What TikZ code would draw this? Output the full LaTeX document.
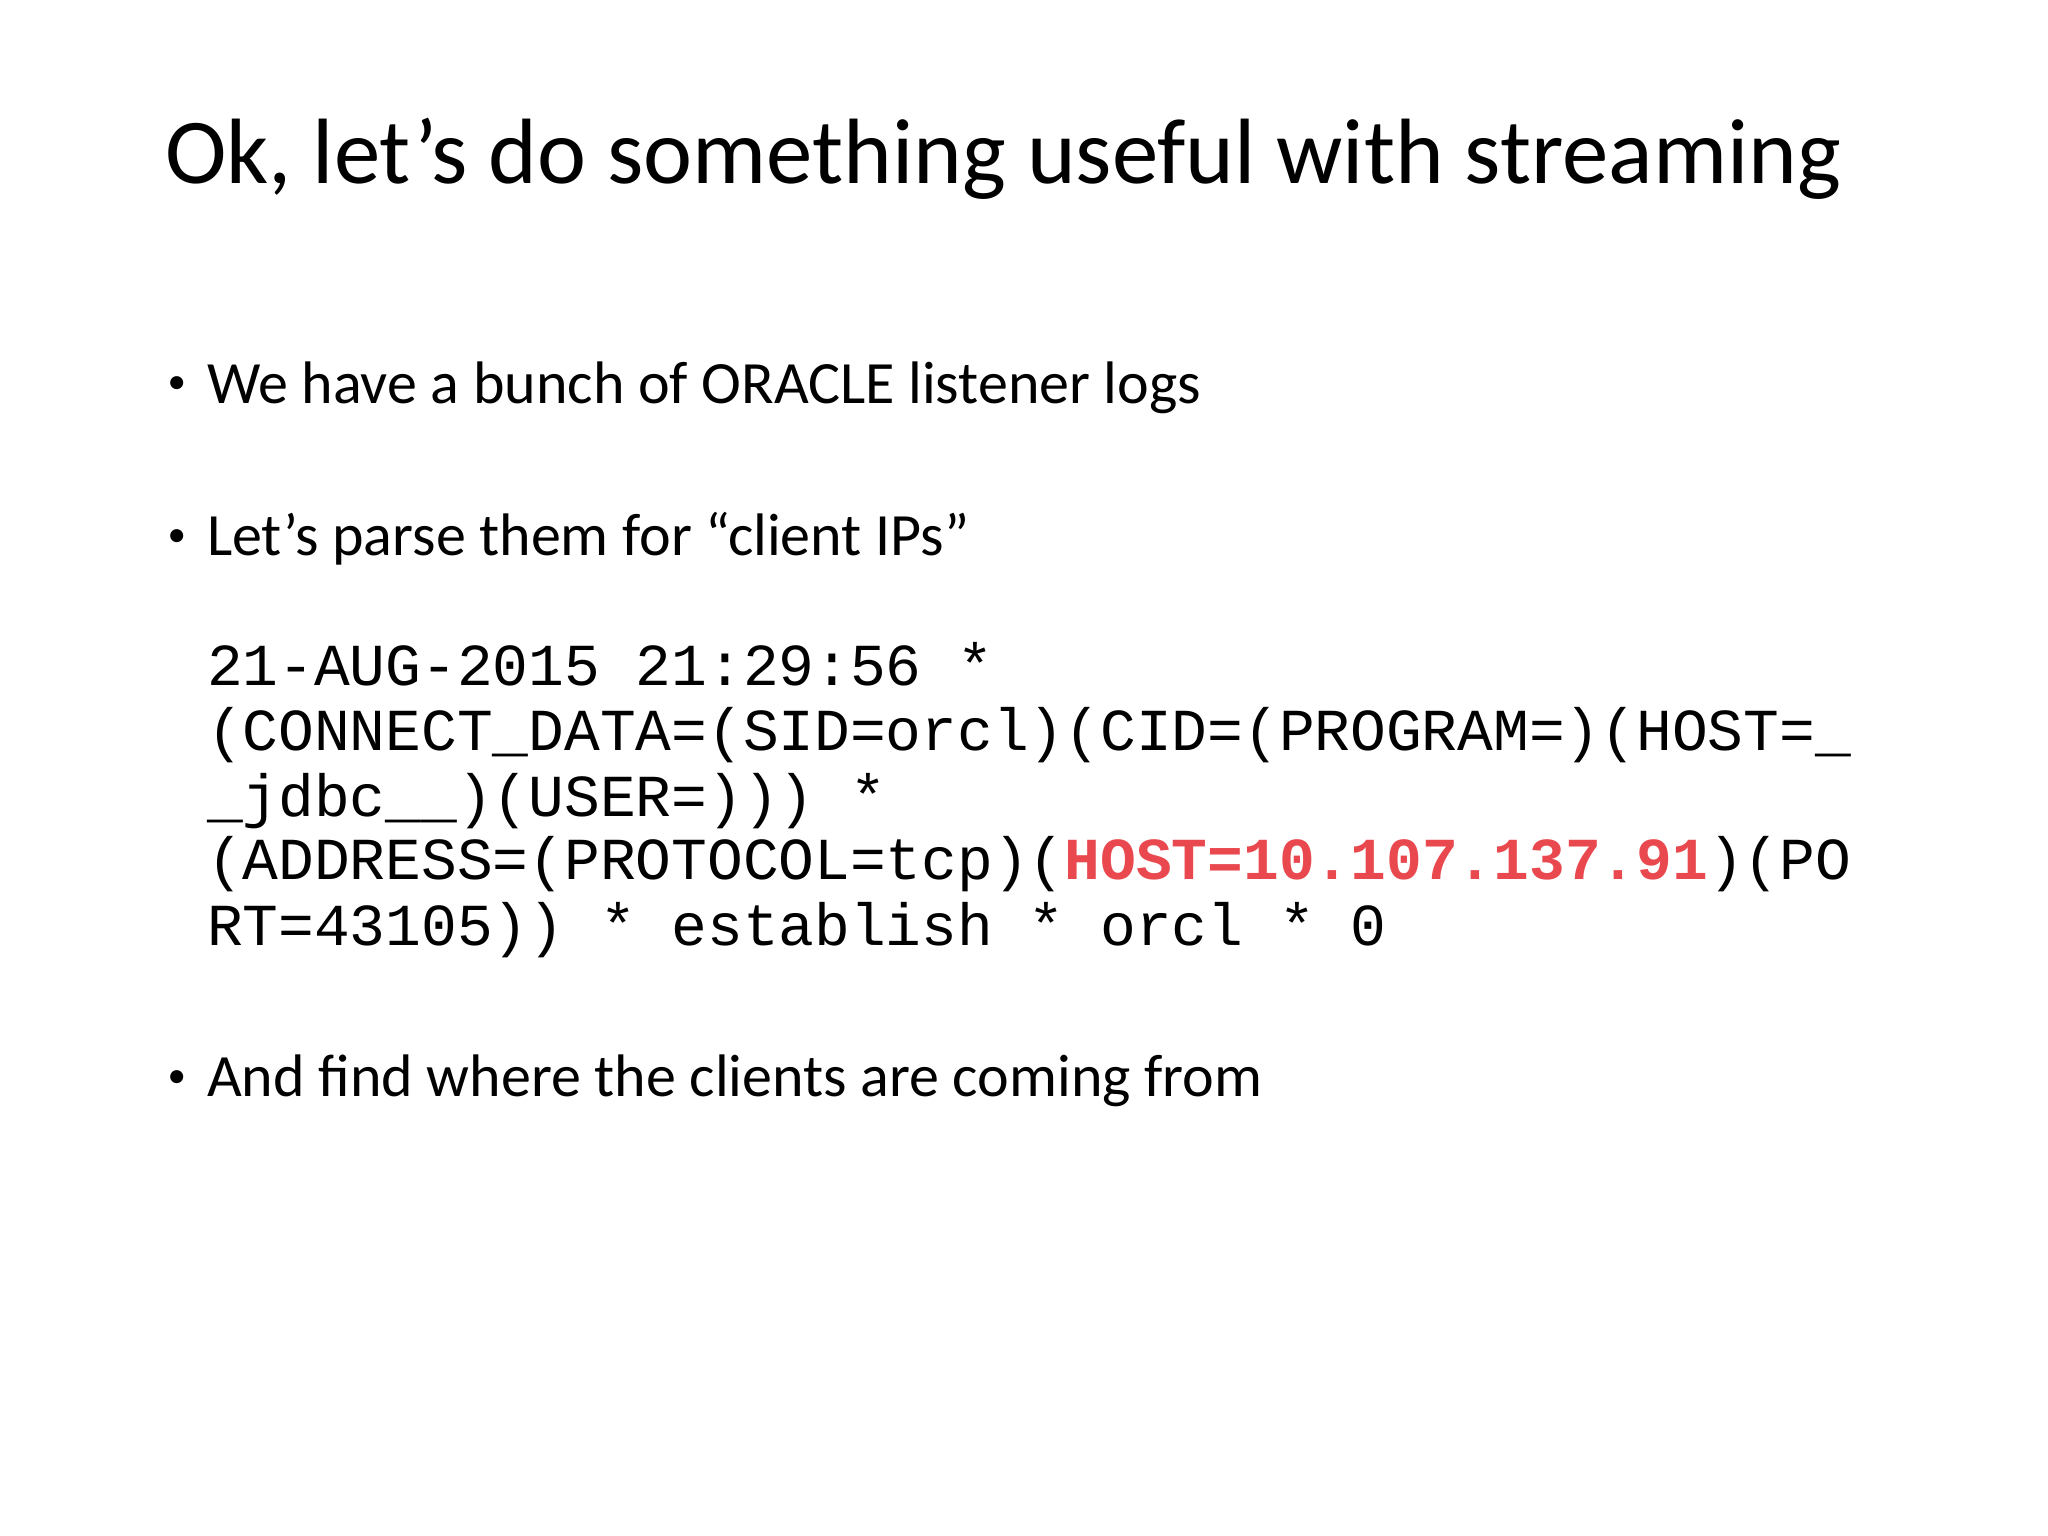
\documentclass[tikz,border=0pt]{standalone}
\usepackage{fontspec}
\setmainfont{Carlito}
\newfontfamily\logfont{Liberation Mono}
\definecolor{hostred}{RGB}{232,72,78}
\tikzset{
  title/.style={anchor=base west,inner sep=0pt,font=\fontsize{20.1}{24}\selectfont},
  bullettext/.style={anchor=base west,inner sep=0pt,font=\fontsize{13}{16}\selectfont},
  bulletdot/.style={anchor=base west,inner sep=0pt,font=\fontsize{8}{10}\selectfont},
  logline/.style={anchor=base west,inner sep=0pt,font=\logfont\fontsize{12.9}{14}\selectfont},
}
\begin{document}
\begin{tikzpicture}[x=0.01cm,y=-0.01cm]
    \useasboundingbox (0,0) rectangle (1560,1170);
    \node[title] (head) at (125,140) {Ok, let’s do something useful with streaming};
    % bullets
    \node[bullettext] (b1) at (157,307) {We have a bunch of ORACLE listener logs};
    \node[bullettext] (b2) at (157,423) {Let’s parse them for “client IPs”};
    \node[bullettext] (b3) at (157,835) {And find where the clients are coming from};
    \foreach \y in {300,416,828}
        \node[bulletdot] at (127,\y) {•};
    % log record
    \node[logline] (l1) at (157,522) {21-AUG-2015 21:29:56 *};
    \node[logline] (l2) at (157,572) {(CONNECT\_DATA=(SID=orcl)(CID=(PROGRAM=)(HOST=\_};
    \node[logline] (l3) at (157,622) {\_jdbc\_\_)(USER=))) *};
    \node[logline] (l4) at (157,670) {(ADDRESS=(PROTOCOL=tcp)(\textcolor{hostred}{\bfseries HOST=10.107.137.91})(PO};
    \node[logline] (l5) at (157,720) {RT=43105)) * establish * orcl * 0};
\end{tikzpicture}
\end{document}
